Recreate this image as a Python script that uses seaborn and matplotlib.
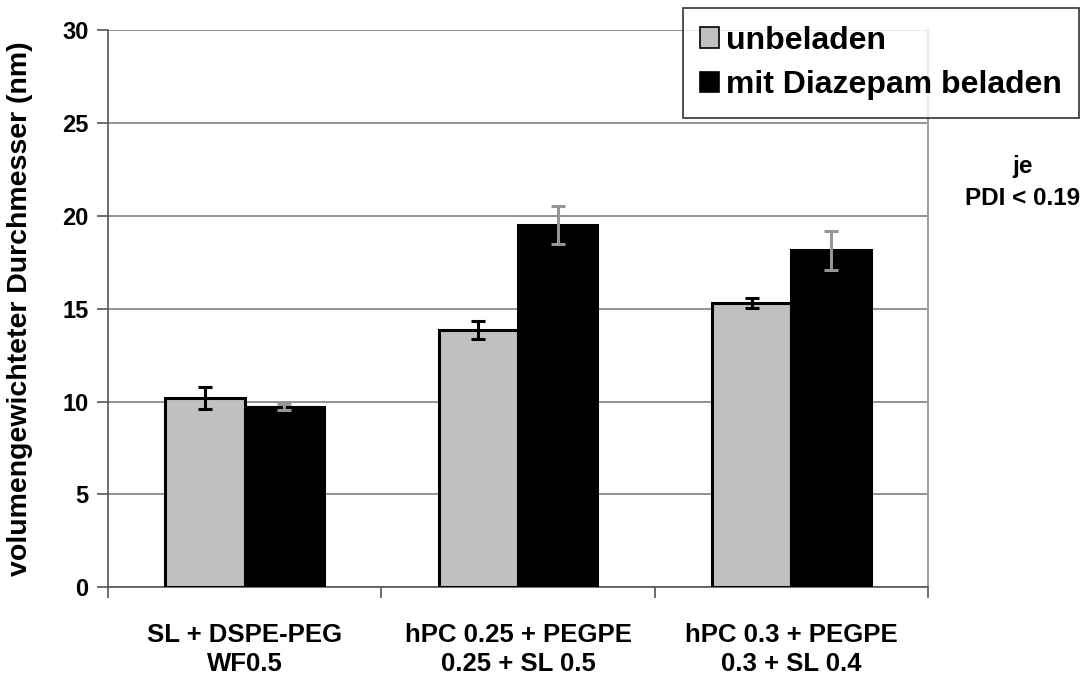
import numpy as np
import pandas as pd
import matplotlib
matplotlib.use("Agg")
import matplotlib.pyplot as plt
import seaborn as sns
from matplotlib.patches import Patch

# Daten
formulierungen = ["SL + DSPE-PEG\nWF0.5", "hPC 0.25 + PEGPE\n0.25 + SL 0.5", "hPC 0.3 + PEGPE\n0.3 + SL 0.4"]
serien = ["unbeladen", "mit Diazepam beladen"]
unbeladen = [10.2, 13.85, 15.3]
unbeladen_err = [0.6, 0.48, 0.28]
beladen = [9.7, 19.5, 18.15]
beladen_err = [0.15, 1.03, 1.05]

farben = {"unbeladen": "#c0c0c0", "mit Diazepam beladen": "#000000"}
err_farben = {"unbeladen": "#000000", "mit Diazepam beladen": "#969696"}

sns.set_theme(style="white")
plt.rcParams['font.family'] = ['Liberation Sans', 'DejaVu Sans']
plt.rcParams['font.weight'] = 'bold'
plt.rcParams['text.color'] = 'black'
plt.rcParams['xtick.color'] = 'black'
plt.rcParams['ytick.color'] = 'black'
plt.rcParams['axes.labelcolor'] = 'black'

df = pd.DataFrame({
    "Formulierung": formulierungen * 2,
    "Serie": [serien[0]] * 3 + [serien[1]] * 3,
    "wert": unbeladen + beladen,
    "err": unbeladen_err + beladen_err,
})

fig = plt.figure(figsize=(10.87, 6.77), dpi=100)
ax = fig.add_axes([0.0994, 0.1325, 0.7543, 0.8232])

sns.barplot(data=df, x="Formulierung", y="wert", hue="Serie", hue_order=serien,
            palette=farben, width=0.58, errorbar=None, ax=ax, legend=False,
            edgecolor="black", linewidth=2.2, zorder=3)

# Fehlerbalken an den Balkenmitten
for bar, (_, row) in zip(ax.patches, df.iterrows()):
    xc = bar.get_x() + bar.get_width() / 2
    ax.errorbar(xc, row["wert"], yerr=row["err"], fmt="none",
                ecolor=err_farben[row["Serie"]], elinewidth=2.2, capsize=5, capthick=2.2, zorder=4)

ax.set_ylim(0, 30)
ax.set_xlim(-0.5, 2.5)
ax.set_yticks(range(0, 31, 5))
ax.yaxis.grid(True, color="#808080", linewidth=1.2, zorder=0)
ax.set_axisbelow(True)
ax.tick_params(axis="y", left=True, length=8, width=1.2, color="#555555", labelsize=17, pad=6)
ax.set_xticks([-0.5, 0.5, 1.5, 2.5], minor=True)
ax.tick_params(axis="x", which="minor", bottom=True, length=8, width=1.2, color="#555555")
ax.tick_params(axis="x", which="major", bottom=False, labelsize=18.5, pad=20)
for lab in ax.get_xticklabels() + ax.get_yticklabels():
    lab.set_fontweight("bold")
    lab.set_color("black")
for lab in ax.get_xticklabels():
    lab.set_linespacing(1.25)

ax.spines["top"].set_visible(False)
ax.spines["left"].set_color("#555555")
ax.spines["left"].set_linewidth(1.2)
ax.spines["bottom"].set_color("#555555")
ax.spines["bottom"].set_linewidth(1.2)
ax.spines["right"].set_color("#a0a0a0")
ax.spines["right"].set_linewidth(1.5)

ax.set_xlabel("")
ax.set_ylabel("volumengewichteter Durchmesser (nm)", fontsize=20.5, fontweight="bold")
ax.yaxis.set_label_coords(-0.092, 0.5)

handles = [Patch(facecolor=farben[s], edgecolor="black", linewidth=1.2) for s in serien]
leg = fig.legend(handles, serien, loc="upper left", bbox_to_anchor=(0.628, 0.988),
                 prop={"weight": "bold", "size": 23}, frameon=True, fancybox=False,
                 handlelength=0.6, handleheight=0.6, handletextpad=0.2, labelspacing=0.45,
                 borderpad=0.55, borderaxespad=0)
leg.get_frame().set_edgecolor("black")
leg.get_frame().set_linewidth(1.2)

fig.text(0.941, 0.73, "je\nPDI < 0.19", ha="center", va="center", fontsize=17.5,
         fontweight="bold", linespacing=1.5)

fig.savefig("out.png", dpi=100)
